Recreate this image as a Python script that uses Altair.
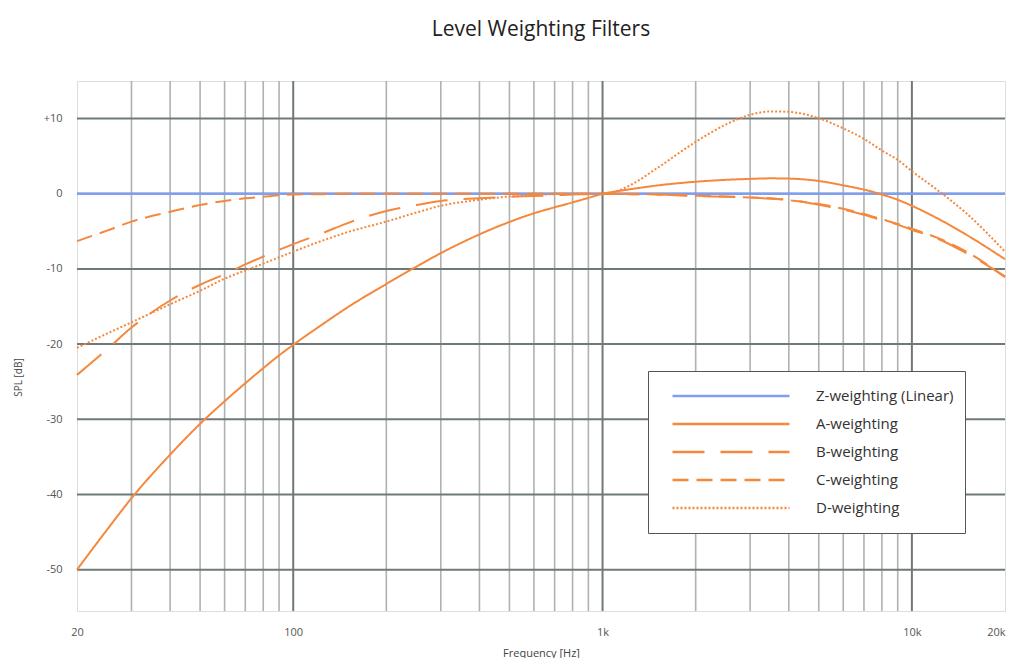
import altair as alt
import pandas as pd

# ---------------- data ----------------
freqs = [20, 25, 30, 40, 50, 60, 70, 80, 90, 100,
         125, 150, 200, 250, 300, 400, 500, 600, 700, 800, 900,
         1000, 1100, 1250, 1500, 2000, 2500, 3000, 3500, 4000,
         5000, 6000, 7000, 8000, 9000, 10000,
         12000, 15000, 20000]

a_vals = [-50.0, -44.7, -40.5, -34.7, -30.6, -27.6, -25.2, -23.2, -21.5, -20.1,
          -17.3, -15.1, -12.0, -9.7, -7.9, -5.4, -3.75, -2.6, -1.8, -1.15, -0.55,
          0.0, 0.3, 0.65, 1.1, 1.6, 1.85, 1.98, 2.05, 2.02,
          1.7, 1.12, 0.55, -0.1, -0.8, -1.6,
          -3.2, -5.45, -8.7]

b_vals = [-24.1, -20.7, -17.8, -14.2, -12.1, -10.7, -9.4, -8.35, -7.45, -6.7,
          -5.2, -3.9, -2.3, -1.5, -0.95, -0.6, -0.4, -0.3, -0.2, -0.1, -0.05,
          0.0, 0.0, -0.05, -0.1, -0.3, -0.4, -0.5, -0.65, -0.8,
          -1.45, -2.1, -2.8, -3.5, -4.1, -4.8,
          -5.9, -7.9, -11.0]

c_vals = [-6.3, -4.9, -3.7, -2.4, -1.5, -0.95, -0.6, -0.4, -0.2, -0.1,
          -0.05, 0.0, 0.0, 0.0, 0.0, 0.0, 0.0, 0.0, 0.0, 0.0, 0.0,
          0.0, 0.0, -0.05, -0.1, -0.25, -0.35, -0.5, -0.6, -0.85,
          -1.35, -2.0, -2.7, -3.4, -4.0, -4.65,
          -5.8, -7.7, -11.1]

d_vals = [-20.5, -18.6, -17.1, -14.7, -12.9, -11.3, -10.2, -9.3, -8.45, -7.7,
          -6.2, -5.1, -3.7, -2.5, -1.6, -0.8, -0.35, -0.15, -0.05, 0.0, 0.0,
          0.0, 0.3, 1.3, 3.4, 6.9, 9.2, 10.5, 10.95, 10.9,
          10.05, 8.7, 7.3, 5.75, 4.5, 3.0,
          0.6, -2.6, -7.7]

z_freqs = [20, 20000]
z_vals = [0.0, 0.0]

series_names = ["Z-weighting (Linear)", "A-weighting", "B-weighting",
                "C-weighting", "D-weighting"]
series_colors = ["#7f9ff2", "#f5883c", "#f5883c", "#f5883c", "#f5883c"]
series_dashes = [[1, 0], [1, 0], [32, 16], [16, 8], [2, 2]]

x_label_values = [20, 100, 1000, 10000, 20000]
y_label_values = [-50, -40, -30, -20, -10, 0, 10]
minor_grid_freqs = [30, 40, 50, 60, 70, 80, 90,
                    200, 300, 400, 500, 600, 700, 800, 900,
                    2000, 3000, 4000, 5000, 6000, 7000, 8000, 9000]
major_grid_freqs = [100, 1000, 10000]
y_grid_values = [-50, -40, -30, -20, -10, 0, 10]

# ---------------- tables ----------------
z_df = pd.DataFrame({"freq": z_freqs, "spl": z_vals, "series": series_names[0]})
rows = []
for name, vals in zip(series_names[1:], [a_vals, b_vals, c_vals, d_vals]):
    for f, v in zip(freqs, vals):
        rows.append({"freq": f, "spl": v, "series": name})
w_df = pd.DataFrame(rows)

FONT = "Open Sans"

x_scale = alt.Scale(type="log", domain=[20, 20000], nice=False)
y_scale = alt.Scale(domain=[-55.5, 15], nice=False, zero=False)

x_axis = alt.Axis(values=x_label_values,
                  labelExpr="datum.value >= 1000 ? (datum.value / 1000) + 'k' : '' + datum.value",
                  labelAlign=alt.condition("datum.value >= 20000", alt.value("right"), alt.value("center")),
                  title="Frequency [Hz]", grid=False, ticks=False, domain=False,
                  labelPadding=15, labelFontSize=11, labelColor="#555", labelFont=FONT,
                  labelFlush=False, labelOverlap=False,
                  titleFont=FONT, titleFontSize=11, titleFontWeight="normal",
                  titleColor="#444", titleY=42, titleBaseline="middle")
y_axis = alt.Axis(values=y_label_values,
                  labelExpr="datum.value > 0 ? '+' + datum.value : '' + datum.value",
                  title="SPL [dB]", grid=False, ticks=False, domain=False,
                  labelPadding=15, labelFontSize=11, labelColor="#555", labelFont=FONT,
                  titleFont=FONT, titleFontSize=10, titleFontWeight="normal",
                  titleColor="#444", titleX=-59, titleY=296, titleBaseline="middle",
                  titleAlign="center")

X = alt.X("freq:Q", scale=x_scale, axis=x_axis)
Y = alt.Y("spl:Q", scale=y_scale, axis=y_axis)


def make_legend():
    return alt.Legend(title=None, orient="none", legendX=571, legendY=290,
                      direction="vertical", symbolType="stroke",
                      symbolSize=117 * 117, symbolStrokeWidth=2.5,
                      clipHeight=28, labelFontSize=15, labelColor="#333",
                      labelFont=FONT, labelOffset=25, symbolOffset=12,
                      padding=11, fillColor="white", strokeColor="#555",
                      rowPadding=0)


color_enc = alt.Color("series:N",
                      scale=alt.Scale(domain=series_names, range=series_colors),
                      legend=make_legend())
dash_enc = alt.StrokeDash("series:N",
                          scale=alt.Scale(domain=series_names, range=series_dashes),
                          legend=make_legend())

minor = alt.Chart(pd.DataFrame({"freq": minor_grid_freqs})).mark_rule(
    color="#aeb2b1", strokeWidth=1.6).encode(x=X)
major = alt.Chart(pd.DataFrame({"freq": major_grid_freqs})).mark_rule(
    color="#6e7978", strokeWidth=2).encode(x=X)
hgrid = alt.Chart(pd.DataFrame({"spl": y_grid_values})).mark_rule(
    color="#6e7978", strokeWidth=2).encode(y=Y)

z_line = alt.Chart(z_df).mark_line(strokeWidth=2.5).encode(
    x=X, y=Y, color=color_enc, strokeDash=dash_enc)
w_lines = alt.Chart(w_df).mark_line(strokeWidth=2, interpolate="monotone").encode(
    x=X, y=Y, color=color_enc, strokeDash=dash_enc, detail="series:N")

chart = alt.layer(minor, major, hgrid, z_line, w_lines).properties(
    width=928, height=530,
    title=alt.TitleParams(text="Level Weighting Filters", fontSize=21, font=FONT,
                          fontWeight="normal", color="#222", offset=40, anchor="middle"),
    autosize=alt.AutoSizeParams(type="none"),
    padding={"left": 69, "top": 73, "right": 1, "bottom": 47},
).configure_view(fill="#e4e4e4", stroke="#7c8080", strokeWidth=2).configure(background="white")

chart.save("out.html", embed_options={"renderer": "svg", "actions": False})
